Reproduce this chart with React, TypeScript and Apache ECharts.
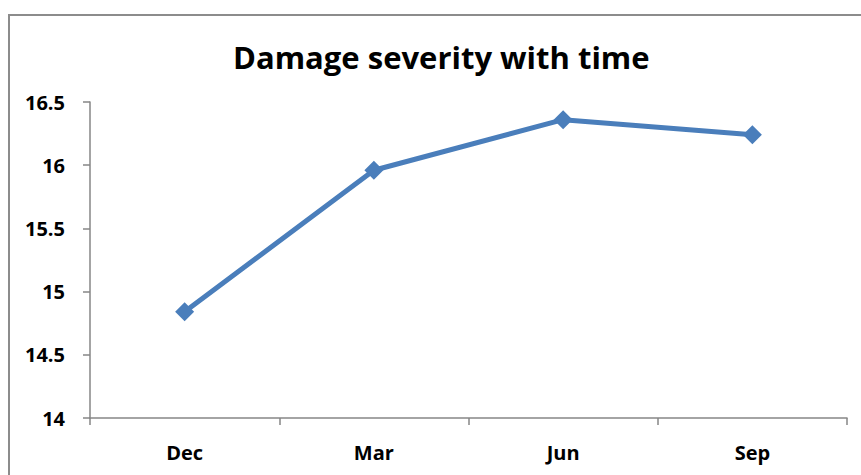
import React, { useEffect, useRef } from "react";
import * as echarts from "echarts";

const categories = ["Dec", "Mar", "Jun", "Sep"];
const severity = [14.84, 15.96, 16.36, 16.24];
const yMin = 14;
const yMax = 16.5;
const yInterval = 0.5;
const titleText = "Damage severity with time";

export default function App() {
  const ref = useRef<HTMLDivElement>(null);
  useEffect(() => {
    document.body.style.margin = "0";
    const chart = echarts.init(ref.current!, null, { renderer: "svg" });
    const font = "'Open Sans', 'Liberation Sans', sans-serif";
    chart.setOption({
      animation: false,
      backgroundColor: "#ffffff",
      title: {
        text: titleText,
        left: 228,
        top: 36,
        textStyle: { fontFamily: font, fontWeight: "bold", fontSize: 31, color: "#000" },
      },
      graphic: [
        {
          type: "rect",
          shape: { x: 9, y: 15, width: 900, height: 500 },
          style: { fill: "none", stroke: "#8c8c8c", lineWidth: 2 },
          silent: true,
        },
      ],
      grid: { left: 90, right: 14, top: 102, bottom: 57 },
      xAxis: {
        type: "category",
        data: categories,
        boundaryGap: true,
        axisLine: { lineStyle: { color: "#868686", width: 1.5 } },
        axisTick: { show: true, length: 7, lineStyle: { color: "#868686", width: 1.5 } },
        axisLabel: { margin: 24, fontFamily: font, fontWeight: "bold", fontSize: 20, color: "#000" },
        splitLine: { show: false },
      },
      yAxis: {
        type: "value",
        min: yMin,
        max: yMax,
        interval: yInterval,
        axisLine: { show: true, lineStyle: { color: "#868686", width: 1.5 } },
        axisTick: { show: true, length: 7, lineStyle: { color: "#868686", width: 1.5 } },
        axisLabel: { margin: 25, fontFamily: font, fontWeight: "bold", fontSize: 20, color: "#000" },
        splitLine: { show: false },
      },
      series: [
        {
          type: "line",
          data: severity,
          symbol: "diamond",
          symbolSize: 19,
          lineStyle: { color: "#4a7ebb", width: 5 },
          itemStyle: { color: "#4a7ebb" },
        },
      ],
    });
    return () => chart.dispose();
  }, []);
  return <div ref={ref} style={{ width: 861, height: 475 }} />;
}
